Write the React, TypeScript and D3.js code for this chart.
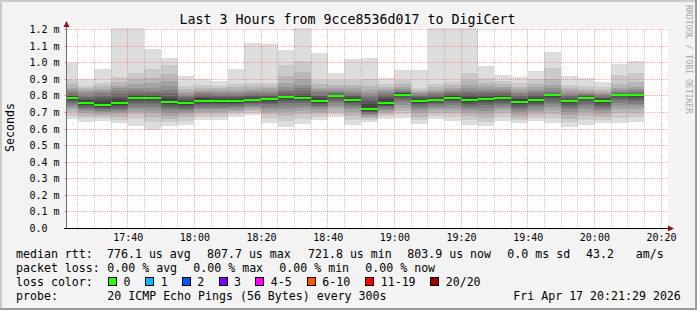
import React from "react";
import * as d3 from "d3";

const W = 697;
const H = 310;

const title = "Last 3 Hours from 9cce8536d017 to DigiCert";
const yAxisTitle = "Seconds";
const sideText = "RRDTOOL / TOBI OETIKER";

const yTickValues = [0, 0.1, 0.2, 0.3, 0.4, 0.5, 0.6, 0.7, 0.8, 0.9, 1.0, 1.1, 1.2];
const yTickLabels = ["0.0", "0.1 m", "0.2 m", "0.3 m", "0.4 m", "0.5 m", "0.6 m", "0.7 m", "0.8 m", "0.9 m", "1.0 m", "1.1 m", "1.2 m"];
const xTickLabels = ["17:40", "18:00", "18:20", "18:40", "19:00", "19:20", "19:40", "20:00", "20:20"];

const timeStart = "17:21:47";
const timeEnd = "20:21:47";
const firstBarStart = "17:20";
const stepMinutes = 5;

// median RTT per 5 minute step (microseconds)
const medianUs = [
  788, 757, 746, 757, 788, 788, 764, 757, 770, 770,
  770, 777, 780, 794, 787, 769, 799, 776, 722, 757,
  808, 769, 776, 788, 776, 782, 788, 764, 776, 804,
  768, 788, 768, 804, 804,
];

// 20 ping RTTs per step (microseconds)
const pingsUs = [
  [999, 895, 870, 850, 835, 822, 812, 802, 796, 792, 784, 776, 766, 756, 745, 732, 718, 704, 680, 660],
  [900, 862, 848, 835, 822, 808, 795, 782, 772, 762, 752, 745, 738, 728, 718, 708, 695, 680, 665, 640],
  [961, 875, 858, 842, 828, 815, 800, 785, 770, 752, 740, 732, 725, 718, 710, 700, 690, 678, 665, 650],
  [1250, 915, 885, 862, 845, 828, 812, 795, 780, 764, 752, 742, 732, 722, 712, 700, 688, 672, 655, 638],
  [1250, 938, 900, 870, 850, 833, 818, 805, 796, 792, 784, 775, 762, 748, 735, 720, 705, 688, 660, 620],
  [1081, 961, 910, 875, 850, 832, 818, 805, 796, 792, 784, 775, 762, 748, 732, 714, 695, 672, 640, 594],
  [1029, 985, 930, 890, 860, 838, 818, 800, 785, 770, 758, 748, 738, 725, 712, 698, 680, 660, 640, 620],
  [919, 858, 840, 825, 812, 800, 790, 780, 770, 762, 752, 742, 732, 722, 712, 700, 688, 670, 650, 624],
  [900, 866, 850, 838, 826, 815, 805, 795, 785, 774, 766, 757, 748, 738, 728, 718, 705, 690, 672, 654],
  [889, 862, 848, 835, 822, 810, 800, 790, 780, 774, 766, 757, 748, 738, 728, 718, 705, 690, 672, 654],
  [961, 870, 852, 838, 825, 812, 800, 790, 780, 774, 766, 758, 750, 740, 730, 720, 710, 700, 688, 674],
  [1117, 876, 858, 842, 830, 818, 806, 796, 786, 780, 774, 766, 758, 750, 740, 730, 720, 710, 698, 684],
  [1111, 878, 860, 845, 832, 820, 808, 797, 788, 784, 776, 768, 758, 748, 735, 720, 705, 688, 665, 638],
  [1075, 985, 920, 880, 855, 838, 822, 810, 800, 796, 790, 782, 770, 756, 740, 722, 700, 678, 648, 614],
  [1250, 1009, 945, 900, 868, 845, 828, 812, 800, 790, 784, 776, 766, 754, 740, 725, 708, 688, 660, 630],
  [1061, 896, 870, 850, 835, 822, 808, 796, 784, 772, 764, 756, 748, 740, 730, 718, 705, 690, 672, 654],
  [935, 895, 868, 850, 836, 825, 815, 808, 803, 800, 796, 790, 782, 770, 755, 740, 725, 705, 688, 670],
  [1021, 895, 865, 846, 832, 820, 808, 796, 786, 779, 773, 765, 755, 744, 732, 718, 700, 680, 655, 625],
  [1029, 900, 860, 835, 815, 798, 784, 770, 750, 728, 716, 710, 705, 698, 690, 682, 674, 665, 655, 644],
  [908, 870, 855, 842, 830, 818, 806, 792, 778, 762, 752, 745, 738, 730, 722, 714, 704, 692, 678, 660],
  [955, 895, 870, 852, 840, 832, 826, 820, 815, 812, 804, 796, 786, 774, 760, 745, 728, 708, 688, 668],
  [955, 848, 835, 825, 815, 806, 798, 790, 782, 772, 764, 756, 748, 738, 726, 712, 695, 675, 652, 630],
  [1250, 870, 852, 838, 826, 815, 804, 794, 785, 779, 773, 766, 758, 749, 740, 728, 714, 698, 680, 660],
  [1250, 885, 865, 850, 838, 826, 815, 806, 798, 792, 784, 776, 766, 755, 742, 728, 712, 694, 672, 650],
  [1250, 935, 895, 868, 848, 832, 818, 805, 792, 780, 772, 762, 752, 740, 726, 712, 696, 678, 652, 624],
  [981, 905, 878, 858, 842, 828, 816, 805, 795, 786, 778, 768, 756, 742, 726, 708, 688, 666, 644, 618],
  [925, 892, 870, 855, 842, 830, 818, 808, 798, 792, 784, 775, 765, 752, 740, 726, 712, 695, 674, 650],
  [911, 875, 855, 840, 826, 813, 800, 789, 778, 768, 760, 750, 740, 728, 715, 700, 684, 668, 654, 638],
  [949, 900, 872, 852, 836, 822, 810, 799, 789, 780, 772, 763, 753, 742, 730, 716, 702, 686, 668, 650],
  [1065, 965, 900, 868, 848, 832, 820, 812, 808, 805, 801, 792, 780, 765, 748, 730, 712, 692, 665, 638],
  [919, 866, 848, 834, 820, 808, 796, 786, 776, 770, 766, 756, 745, 732, 718, 702, 684, 662, 640, 614],
  [905, 858, 842, 830, 820, 811, 803, 797, 792, 790, 786, 778, 766, 752, 736, 718, 700, 680, 654, 624],
  [885, 852, 838, 826, 814, 804, 795, 786, 778, 771, 765, 756, 745, 733, 720, 706, 690, 672, 654, 634],
  [991, 925, 870, 850, 836, 825, 816, 810, 806, 804, 802, 796, 786, 772, 756, 738, 718, 696, 668, 634],
  [1009, 935, 882, 856, 840, 828, 818, 810, 806, 804, 802, 794, 782, 768, 752, 736, 718, 698, 672, 644],
];

const legendRtt = ["median rtt:", "776.1 us avg", "807.7 us max", "721.8 us min", "803.9 us now", "0.0 ms sd", "43.2", "am/s"];
const legendLoss = ["packet loss:", "0.00 % avg", "0.00 % max", "0.00 % min", "0.00 % now"];
const lossLabel = "loss color:";
const lossNames = ["0", "1", "2", "3", "4-5", "6-10", "11-19", "20/20"];
const lossColors = ["#26ff00", "#00b8ff", "#0059ff", "#7e00ff", "#ff00ff", "#ff5500", "#ff0000", "#a10000"];
const probeText = ["probe:", "20 ICMP Echo Pings (56 Bytes) every 300s", "Fri Apr 17 20:21:29 2026"];

const toMin = (s: string) => {
  const p = s.split(":").map(Number);
  return p[0] * 60 + p[1] + (p[2] || 0) / 60;
};

const MONO = "'DejaVu Sans Mono', monospace";

export default function App() {
  const left = 67;
  const right = 667;
  const top = 29;
  const bottom = 228.5;
  const x = d3.scaleLinear().domain([toMin(timeStart), toMin(timeEnd)]).range([left, right]);
  const y = d3.scaleLinear().domain([0, 1.2]).range([bottom, top + 0.5]);
  const px = (v: number) => Math.floor(v) + 0.5;

  const barStart0 = toMin(firstBarStart);
  const bars = pingsUs.map((p, i) => {
    const asc = [...p].sort((a, b) => a - b);
    const t0 = barStart0 + i * stepMinutes;
    const t1 = t0 + stepMinutes;
    return { asc, x0: x(t0), x1: x(t1), med: medianUs[i] };
  });

  const half = 10;
  const smokeColor = (k: number) => {
    const c = Math.floor((190 / half) * (half - k)) + 50;
    const h = c.toString(16).padStart(2, "0");
    return "#" + h + h + h;
  };

  const majorTimes = xTickLabels.map(toMin);
  const minorTimes: number[] = [];
  for (let t = Math.ceil(toMin(timeStart) / 5) * 5; t <= toMin(timeEnd); t += 5) {
    if (!majorTimes.some((m) => Math.abs(m - t) < 0.01)) minorTimes.push(t);
  }

  const majorColor = "rgba(255,95,95,0.55)";
  const minorColor = "rgba(140,140,140,0.45)";

  const rttX = [16, 107, 207, 308, 407.3, 507.3, 586, 635.7];
  const lossX = [16, 107.3, 193.3, 279.3, 365.3];
  const boxX = [108.5, 145.7, 182.3, 219, 255.7, 307.3, 365.7, 430.7];

  return (
    <svg width={W} height={H} style={{ position: "absolute", left: 0, top: 0, display: "block" }} fontFamily={MONO}>
      <defs>
        <clipPath id="canvasClip">
          <rect x={left} y={top - 1} width={right - left} height={bottom - top + 1} />
        </clipPath>
      </defs>
      <rect x={0} y={0} width={W} height={H} fill="#f3f3f3" />
      <rect x={0} y={0} width={W} height={2} fill="#cbcbcb" />
      <rect x={0} y={0} width={2} height={H} fill="#cbcbcb" />
      <rect x={0} y={H - 2} width={W} height={2} fill="#9c9c9c" />
      <rect x={W - 2} y={0} width={2} height={H} fill="#9c9c9c" />

      <rect x={left} y={top - 1} width={right - left + 1} height={bottom - top + 1} fill="#ffffff" />

      <g clipPath="url(#canvasClip)" shapeRendering="crispEdges">
        {bars.map((b, i) => (
          <g key={i}>
            {d3.range(1, half + 1).map((k) => {
              const lo = b.asc[k - 1] / 1000;
              const hi = b.asc[20 - k] / 1000;
              return (
                <rect
                  key={k}
                  x={b.x0}
                  width={b.x1 - b.x0}
                  y={y(hi)}
                  height={Math.max(0, y(lo) - y(hi))}
                  fill={smokeColor(k)}
                />
              );
            })}
          </g>
        ))}
      </g>

      <g shapeRendering="crispEdges">
        {minorTimes.map((t, i) => (
          <line key={"mn" + i} x1={px(x(t))} x2={px(x(t))} y1={top} y2={bottom} stroke={minorColor} strokeDasharray="1,1" />
        ))}
        {majorTimes.map((t, i) => (
          <line key={"mj" + i} x1={px(x(t))} x2={px(x(t))} y1={top} y2={bottom} stroke={majorColor} strokeDasharray="1,1" />
        ))}
        {yTickValues.slice(1).map((v, i) => (
          <g key={"h" + i}>
            <line x1={left} x2={right + 1} y1={px(y(v))} y2={px(y(v))} stroke={majorColor} strokeDasharray="1,1" />
            <line x1={left - 3} x2={left} y1={px(y(v))} y2={px(y(v))} stroke={majorColor} />
          </g>
        ))}
      </g>

      <g clipPath="url(#canvasClip)" shapeRendering="crispEdges">
        {bars.map((b, i) => (
          <rect key={"m" + i} x={b.x0} width={b.x1 - b.x0} y={y(b.med / 1000) - 1} height={2} fill={lossColors[0]} />
        ))}
      </g>

      {/* axes */}
      <line x1={left - 0.5} x2={left - 0.5} y1={26} y2={bottom} stroke="#6e6e6e" shapeRendering="crispEdges" />
      <line x1={left - 3} x2={669} y1={228.5} y2={228.5} stroke="#000" shapeRendering="crispEdges" />
      <polygon points={`${left - 3.5},27 ${left + 2.5},27 ${left - 0.5},21`} fill="#8e1414" />
      <polygon points="668,225.5 668,231.5 674,228.5" fill="#8e1414" />

      {/* y tick labels */}
      {yTickValues.map((v, i) => (
        <text key={"yl" + i} x={29.5} y={px(y(v)) + 3.5} fontSize={10} fill="#000">
          {yTickLabels[i]}
        </text>
      ))}
      {xTickLabels.map((l, i) => (
        <text key={"xl" + i} x={x(majorTimes[i]) + 0.5} y={241} fontSize={10} textAnchor="middle" fill="#000">
          {l}
        </text>
      ))}

      <text x={347.5} y={24} fontSize={13.3} textAnchor="middle" fill="#000">
        {title}
      </text>
      <text transform="translate(14,127.5) rotate(-90)" fontSize={11.6} textAnchor="middle" fill="#000">
        {yAxisTitle}
      </text>
      <text transform="translate(685.5,5) rotate(90)" fontSize={8.2} fill="#a8a8a8">
        {sideText}
      </text>

      {/* legend */}
      <g fontSize={11.6} fill="#000">
        {legendRtt.map((s, i) => (
          <text key={"r" + i} x={rttX[i]} y={258.3} xmlSpace="preserve">
            {s}
          </text>
        ))}
        {legendLoss.map((s, i) => (
          <text key={"l" + i} x={lossX[i]} y={272.2}>
            {s}
          </text>
        ))}
        <text x={16} y={286}>{lossLabel}</text>
        {lossNames.map((n, i) => (
          <g key={"b" + i}>
            <rect x={boxX[i]} y={277.5} width={8} height={8} fill={lossColors[i]} stroke="#000" strokeWidth={1} shapeRendering="crispEdges" />
            <text x={boxX[i] + 15} y={286}>
              {n}
            </text>
          </g>
        ))}
        <text x={16} y={300}>{probeText[0]}</text>
        <text x={107.3} y={300}>{probeText[1]}</text>
        <text x={513.3} y={300}>{probeText[2]}</text>
      </g>
    </svg>
  );
}
